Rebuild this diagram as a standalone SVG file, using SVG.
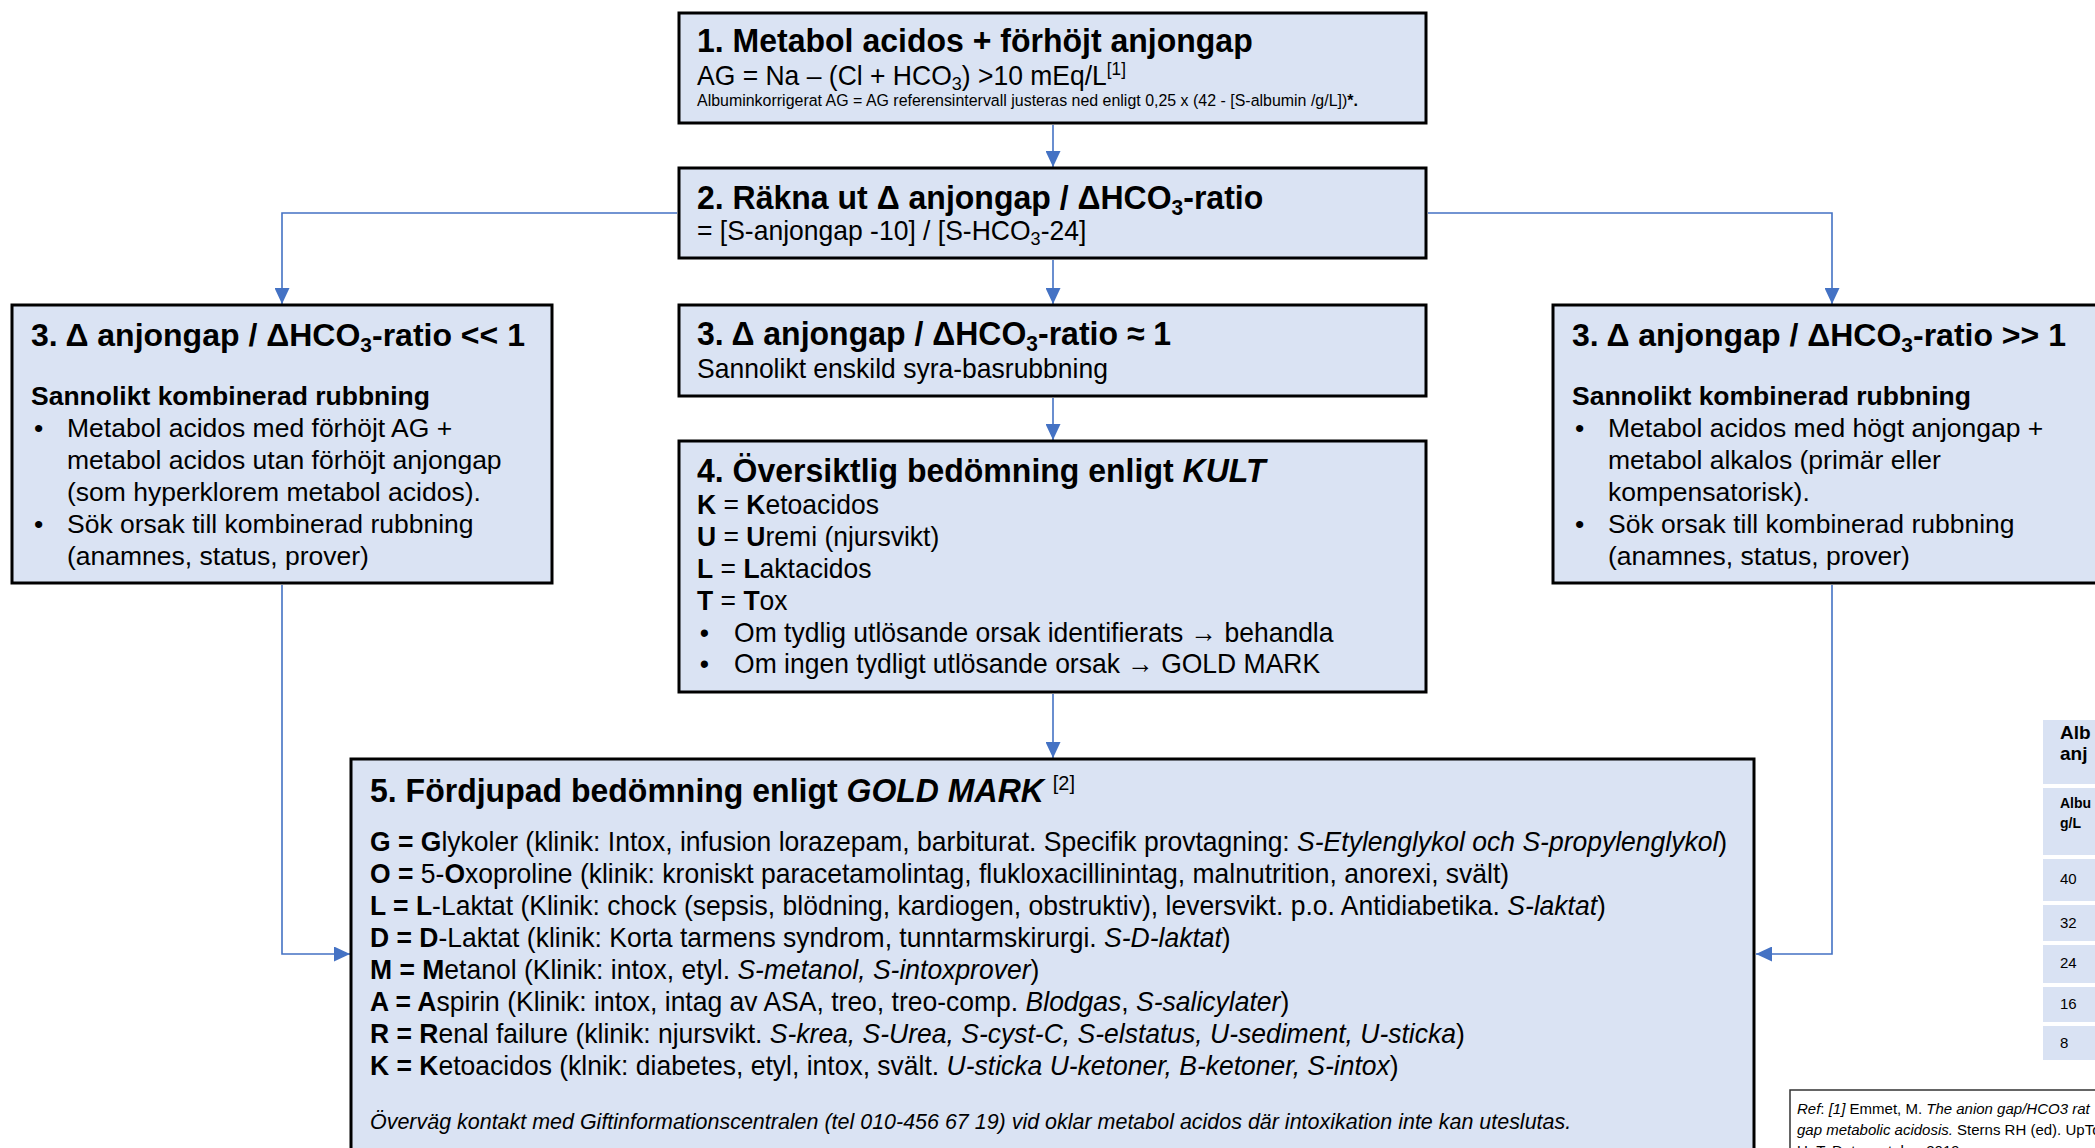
<svg xmlns="http://www.w3.org/2000/svg" width="2095" height="1148" viewBox="0 0 2095 1148">
<style>
.box{fill:#dae3f3;stroke:#000;stroke-width:3}
.t{font-family:"Liberation Sans",Arial,sans-serif;fill:#000}
.h{font-size:32px;font-weight:bold}
.b{font-size:26.5px}
.nh{font-size:33.7px;font-weight:bold}
.nb{font-size:27.9px}
.bd{font-weight:bold}
.it{font-style:italic}
.conn{stroke:#4472c4;stroke-width:1.6;fill:none;marker-end:url(#ah)}
.cell{fill:#d9e2f3}
.ref{font-family:"Liberation Sans",Arial,sans-serif;font-size:15px;fill:#000}
</style>
<defs>
<marker id="ah" markerWidth="16" markerHeight="15" refX="16" refY="7.5" orient="auto" markerUnits="userSpaceOnUse">
<path d="M0,0 L16,7.5 L0,15 z" fill="#4472c4"/>
</marker>
</defs>
<rect width="2095" height="1148" fill="#fff"/>

<g id="connectors">
<path class="conn" d="M1053,125 V167"/>
<path class="conn" d="M1053,260 V304"/>
<path class="conn" d="M1053,398 V440"/>
<path class="conn" d="M1053,694 V758"/>
<path class="conn" d="M677,213 H282 V304"/>
<path class="conn" d="M1428,213 H1832 V304"/>
<path class="conn" d="M282,585 V954 H350"/>
<path class="conn" d="M1832,585 V954 H1756"/>
</g>

<g id="node1">
<rect class="box" x="679" y="13" width="747" height="110"/>
<g transform="translate(697,0) scale(0.95,1)">
<text class="t nh" x="0" y="52">1. Metabol acidos + förhöjt anjongap</text>
<text class="t nb" x="0" y="85">AG = Na – (Cl + HCO<tspan font-size="19" dy="5">3</tspan><tspan dy="-5">) &gt;10 mEq/L</tspan><tspan font-size="18" dy="-10">[1]</tspan></text>
<text class="t" font-size="16.8" x="0" y="106">Albuminkorrigerat AG = AG referensintervall justeras ned enligt 0,25 x (42 - [S-albumin /g/L])<tspan class="bd">*.</tspan></text>
</g>
</g>

<g id="node2">
<rect class="box" x="679" y="168" width="747" height="90"/>
<g transform="translate(697,0) scale(0.95,1)">
<text class="t nh" x="0" y="209">2. Räkna ut Δ anjongap / ΔHCO<tspan font-size="22" dy="6">3</tspan><tspan dy="-6">-ratio</tspan></text>
<text class="t nb" x="0" y="240">= [S-anjongap -10] / [S-HCO<tspan font-size="19" dy="5">3</tspan><tspan dy="-5">-24]</tspan></text>
</g>
</g>

<g id="node3-mid">
<rect class="box" x="679" y="305" width="747" height="91"/>
<g transform="translate(697,0) scale(0.95,1)">
<text class="t nh" x="0" y="345">3. Δ anjongap / ΔHCO<tspan font-size="22" dy="6">3</tspan><tspan dy="-6">-ratio ≈ 1</tspan></text>
<text class="t nb" x="0" y="378">Sannolikt enskild syra-basrubbning</text>
</g>
</g>

<g id="node3-left">
<rect class="box" x="12" y="305" width="540" height="278"/>
<text class="t h" x="31" y="346">3. Δ anjongap / ΔHCO<tspan font-size="21" dy="6">3</tspan><tspan dy="-6">-ratio &lt;&lt; 1</tspan></text>
<text class="t b bd" x="31" y="405">Sannolikt kombinerad rubbning</text>
<text class="t b" x="34" y="437">•</text>
<text class="t b" x="67" y="437">Metabol acidos med förhöjt AG +</text>
<text class="t b" x="67" y="469">metabol acidos utan förhöjt anjongap</text>
<text class="t b" x="67" y="501">(som hyperklorem metabol acidos).</text>
<text class="t b" x="34" y="533">•</text>
<text class="t b" x="67" y="533">Sök orsak till kombinerad rubbning</text>
<text class="t b" x="67" y="565">(anamnes, status, prover)</text>
</g>

<g id="node3-right">
<rect class="box" x="1553" y="305" width="600" height="278"/>
<text class="t h" x="1572" y="346">3. Δ anjongap / ΔHCO<tspan font-size="21" dy="6">3</tspan><tspan dy="-6">-ratio &gt;&gt; 1</tspan></text>
<text class="t b bd" x="1572" y="405">Sannolikt kombinerad rubbning</text>
<text class="t b" x="1575" y="437">•</text>
<text class="t b" x="1608" y="437">Metabol acidos med högt anjongap +</text>
<text class="t b" x="1608" y="469">metabol alkalos (primär eller</text>
<text class="t b" x="1608" y="501">kompensatorisk).</text>
<text class="t b" x="1575" y="533">•</text>
<text class="t b" x="1608" y="533">Sök orsak till kombinerad rubbning</text>
<text class="t b" x="1608" y="565">(anamnes, status, prover)</text>
</g>

<g id="node4">
<rect class="box" x="679" y="441" width="747" height="251"/>
<g transform="translate(697,0) scale(0.95,1)">
<text class="t nh" x="0" y="482">4. Översiktlig bedömning enligt <tspan class="it">KULT</tspan></text>
<text class="t nb" x="0" y="514"><tspan class="bd">K</tspan> = <tspan class="bd">K</tspan>etoacidos</text>
<text class="t nb" x="0" y="546"><tspan class="bd">U</tspan> = <tspan class="bd">U</tspan>remi (njursvikt)</text>
<text class="t nb" x="0" y="578"><tspan class="bd">L</tspan> = <tspan class="bd">L</tspan>aktacidos</text>
<text class="t nb" x="0" y="610"><tspan class="bd">T</tspan> = <tspan class="bd">T</tspan>ox</text>
<text class="t nb" x="3" y="642">•</text>
<text class="t nb" x="39" y="642">Om tydlig utlösande orsak identifierats → behandla</text>
<text class="t nb" x="3" y="673">•</text>
<text class="t nb" x="39" y="673">Om ingen tydligt utlösande orsak → GOLD MARK</text>
</g>
</g>

<g id="node5">
<rect class="box" x="351" y="759" width="1403" height="420"/>
<g transform="translate(370,0) scale(0.95,1)">
<text class="t nh" x="0" y="802">5. Fördjupad bedömning enligt <tspan class="it">GOLD MARK</tspan> <tspan font-weight="normal" font-size="21" dy="-12">[2]</tspan></text>
<text class="t nb" x="0" y="851"><tspan class="bd">G = G</tspan>lykoler (klinik: Intox, infusion lorazepam, barbiturat. Specifik provtagning: <tspan class="it">S-Etylenglykol och S-propylenglykol</tspan>)</text>
<text class="t nb" x="0" y="883"><tspan class="bd">O = </tspan>5-<tspan class="bd">O</tspan>xoproline (klinik: kroniskt paracetamolintag, flukloxacillinintag, malnutrition, anorexi, svält)</text>
<text class="t nb" x="0" y="915"><tspan class="bd">L =  L</tspan>-Laktat (Klinik: chock (sepsis, blödning, kardiogen, obstruktiv), leversvikt. p.o. Antidiabetika. <tspan class="it">S-laktat</tspan>)</text>
<text class="t nb" x="0" y="947"><tspan class="bd">D = D</tspan>-Laktat (klinik: Korta tarmens syndrom, tunntarmskirurgi. <tspan class="it">S-D-laktat</tspan>)</text>
<text class="t nb" x="0" y="979"><tspan class="bd">M = M</tspan>etanol (Klinik: intox, etyl. <tspan class="it">S-metanol, S-intoxprover</tspan>)</text>
<text class="t nb" x="0" y="1011"><tspan class="bd">A = A</tspan>spirin (Klinik: intox, intag av ASA, treo, treo-comp. <tspan class="it">Blodgas</tspan>, <tspan class="it">S-salicylater</tspan>)</text>
<text class="t nb" x="0" y="1043"><tspan class="bd">R = R</tspan>enal failure (klinik: njursvikt. <tspan class="it">S-krea, S-Urea, S-cyst-C, S-elstatus, U-sediment, U-sticka</tspan>)</text>
<text class="t nb" x="0" y="1075"><tspan class="bd">K = K</tspan>etoacidos (klnik: diabetes, etyl, intox, svält. <tspan class="it">U-sticka U-ketoner, B-ketoner, S-intox</tspan>)</text>
<text class="t it" font-size="22.6" x="0" y="1129">Överväg kontakt med Giftinformationscentralen (tel 010-456 67 19) vid oklar metabol acidos där intoxikation inte kan uteslutas.</text>
</g>
</g>

<g id="table">
<rect class="cell" x="2043" y="720" width="60" height="64"/>
<rect class="cell" x="2043" y="788" width="60" height="67"/>
<rect class="cell" x="2043" y="859" width="60" height="42"/>
<rect class="cell" x="2043" y="905" width="60" height="36"/>
<rect class="cell" x="2043" y="945" width="60" height="38"/>
<rect class="cell" x="2043" y="987" width="60" height="35"/>
<rect class="cell" x="2043" y="1026" width="60" height="34"/>
<text class="t bd" font-size="19" x="2060" y="739">Alb</text>
<text class="t bd" font-size="19" x="2060" y="760">anj</text>
<text class="t bd" font-size="14" x="2060" y="808">Albu</text>
<text class="t bd" font-size="14" x="2060" y="828">g/L</text>
<text class="t" font-size="15" x="2060" y="884">40</text>
<text class="t" font-size="15" x="2060" y="928">32</text>
<text class="t" font-size="15" x="2060" y="968">24</text>
<text class="t" font-size="15" x="2060" y="1009">16</text>
<text class="t" font-size="15" x="2060" y="1048">8</text>
</g>

<g id="reference">
<rect x="1790" y="1090" width="330" height="80" fill="#fff" stroke="#333" stroke-width="1.5"/>
<text class="ref" x="1797" y="1114"><tspan class="it">Ref</tspan>: <tspan class="it">[1]</tspan> Emmet, M. <tspan class="it">The anion gap/HCO3 rat</tspan></text>
<text class="ref" x="1797" y="1135"><tspan class="it">gap metabolic acidosis.</tspan> Sterns RH (ed). UpTo</text>
<text class="ref" x="1797" y="1156">UpToDate: october 2019</text>
</g>
</svg>
